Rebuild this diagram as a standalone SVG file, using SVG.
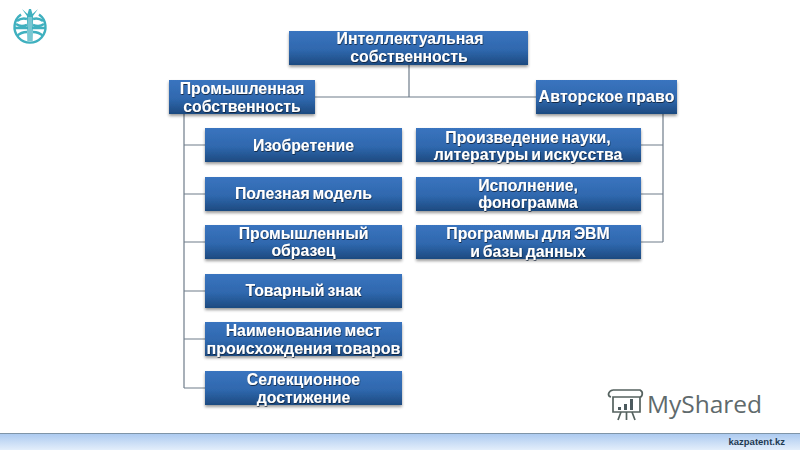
<svg xmlns="http://www.w3.org/2000/svg" width="800" height="450" viewBox="0 0 800 450">
<style>
.box{fill:url(#bf);filter:url(#sh)}
.t{font:bold 15.800px "Liberation Sans",Arial,sans-serif;fill:#fff;text-anchor:middle;word-spacing:-1.500px;filter:url(#ts)}
.c{fill:none;stroke:#6f7c8a;stroke-width:1.200}
.lg{fill:none;stroke:#3fb0bf;stroke-width:2.400}
.ms{fill:none;stroke:#55625f;stroke-width:1.700}
</style>
<defs>
<linearGradient id="bf" x1="0" y1="0" x2="0" y2="1"><stop offset="0" stop-color="#3a74bf"/><stop offset=".55" stop-color="#2f68ae"/><stop offset="1" stop-color="#1d4a80"/></linearGradient>
<linearGradient id="ft" x1="0" y1="0" x2="0" y2="1"><stop offset="0" stop-color="#a9c8ef"/><stop offset="1" stop-color="#e3eefb"/></linearGradient>
<filter id="sh" x="-5%" y="-15%" width="110%" height="140%"><feDropShadow dx="0" dy="2" stdDeviation="1.500" flood-color="#000" flood-opacity=".4"/></filter>
<filter id="ts" x="-5%" y="-20%" width="110%" height="150%"><feDropShadow dx="0.500" dy="1" stdDeviation="0.500" flood-color="#0a2036" flood-opacity=".85"/></filter>
</defs>
<rect width="800" height="450" fill="#fff"/>
<g id="connectors">
<path class="c" d="M409 65V97M315 97H536"/>
<path class="c" d="M184 114V388M184 145H205M184 194H205M184 242H205M184 291H205M184 339H205M184 388H205"/>
<path class="c" d="M663 114V242M641 145H663M641 194H663M641 242H663"/>
</g>
<g id="n-root"><rect class="box" x="289" y="31" width="239" height="34"/><text class="t" x="410" y="44">Интеллектуальная</text><text class="t" x="409" y="62">собственность</text></g>
<g id="n-prom"><rect class="box" x="169" y="80" width="146" height="34"/><text class="t" x="242" y="94">Промышленная</text><text class="t" x="242" y="112">собственность</text></g>
<g id="n-avt"><rect class="box" x="536" y="80" width="141" height="34"/><text class="t" x="606.500" y="102" textLength="136">Авторское право</text></g>
<g id="n-izo"><rect class="box" x="205" y="128" width="197" height="34"/><text class="t" x="303.500" y="151">Изобретение</text></g>
<g id="n-pol"><rect class="box" x="205" y="177" width="197" height="34"/><text class="t" x="303.500" y="199">Полезная модель</text></g>
<g id="n-obr"><rect class="box" x="205" y="225" width="197" height="34"/><text class="t" x="303.500" y="239">Промышленный</text><text class="t" x="303.500" y="256">образец</text></g>
<g id="n-zn"><rect class="box" x="205" y="274" width="197" height="34"/><text class="t" x="303.500" y="296">Товарный знак</text></g>
<g id="n-nm"><rect class="box" x="205" y="322" width="197" height="34"/><text class="t" x="303.500" y="336">Наименование мест</text><text class="t" x="303.500" y="354" textLength="194" lengthAdjust="spacingAndGlyphs">происхождения товаров</text></g>
<g id="n-sel"><rect class="box" x="205" y="371" width="197" height="34"/><text class="t" x="303.500" y="385">Селекционное</text><text class="t" x="303.500" y="403">достижение</text></g>
<g id="n-proizv"><rect class="box" x="416" y="128" width="225" height="34"/><text class="t" x="528" y="143">Произведение науки,</text><text class="t" x="528" y="160">литературы и искусства</text></g>
<g id="n-isp"><rect class="box" x="416" y="177" width="225" height="34"/><text class="t" x="528" y="191">Исполнение,</text><text class="t" x="528" y="208">фонограмма</text></g>
<g id="n-evm"><rect class="box" x="416" y="225" width="225" height="34"/><text class="t" x="528" y="239">Программы для ЭВМ</text><text class="t" x="528" y="257">и базы данных</text></g>
<g id="logo">
<path class="lg" d="M21 14.500A15.500 15.500 0 1 0 39 14.500"/>
<path class="lg" d="M17 21C21 18 24 18 27 19M43 21C39 18 36 18 33 19M15 28H45M16 24C20 27 24 26 27 25M44 24C40 27 36 26 33 25M17 36C21 32 24 32 27 32M43 36C39 32 36 32 33 32"/>
<path d="M22 9L27.500 14 29 9H31L32.500 14 38 9 33 16 32.500 41H27.500L27 16Z" fill="#3fb0bf"/>
<path d="M29 17V41M31 17V41" stroke="#fff" stroke-width=".6"/>
</g>
<g id="myshared">
<path class="ms" d="M613 390H640C644 392 642 397 640 397M613 390C608 391 607 396 611 397M613 397H640V412H613Z"/>
<path d="M618 407h3v3h-3zM624 404h3v6h-3zM630 399h3v11h-3z" fill="#4c5a5e"/>
<path class="ms" d="M621 412L618 420M626.500 412V420M632 412L635 420"/>
<text x="647" y="413" font-family="'Open Sans',sans-serif" font-size="24.500" fill="#5f6a6c" textLength="115">MyShared</text>
</g>
<g id="footer">
<rect x="0" y="433" width="800" height="17" fill="url(#ft)"/>
<path d="M0 433.500H800" stroke="#7f95a8" stroke-width="1"/>
<text x="785" y="445" text-anchor="end" font-family="'Liberation Sans',sans-serif" font-weight="bold" font-size="9.500" fill="#1f3a52">kazpatent.kz</text>
</g>
</svg>
